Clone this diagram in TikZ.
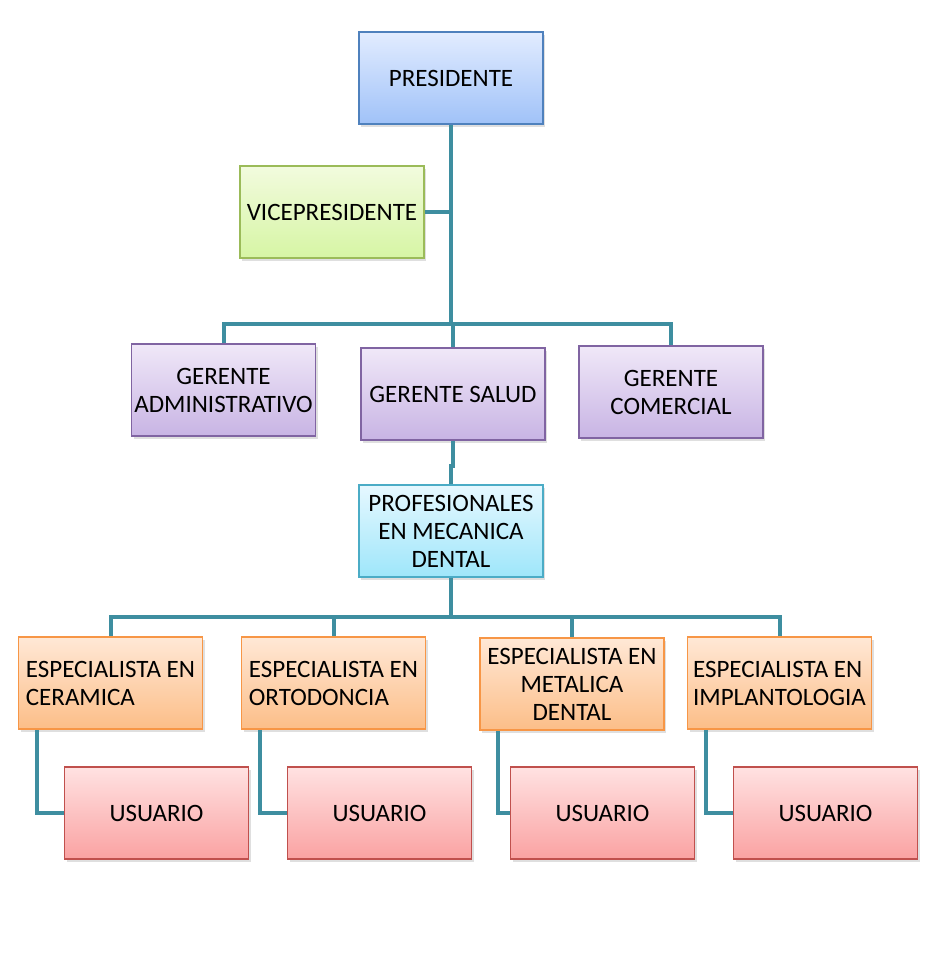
\documentclass[tikz,border=0pt]{standalone}
\usepackage{fontspec}
\setmainfont{Carlito}
\usetikzlibrary{shadows}

\definecolor{linkc}{RGB}{62,142,160}
\definecolor{presT}{RGB}{226,236,255}\definecolor{presB}{RGB}{160,194,248}\definecolor{presD}{RGB}{79,129,189}
\definecolor{viceT}{RGB}{242,251,222}\definecolor{viceB}{RGB}{214,245,164}\definecolor{viceD}{RGB}{155,187,89}
\definecolor{gerT}{RGB}{240,232,248}\definecolor{gerB}{RGB}{200,180,228}\definecolor{gerD}{RGB}{128,100,162}
\definecolor{profT}{RGB}{230,248,255}\definecolor{profB}{RGB}{158,230,250}\definecolor{profD}{RGB}{75,172,198}
\definecolor{espT}{RGB}{255,232,214}\definecolor{espB}{RGB}{252,190,136}\definecolor{espD}{RGB}{247,150,70}
\definecolor{usrT}{RGB}{255,226,226}\definecolor{usrB}{RGB}{250,162,162}\definecolor{usrD}{RGB}{192,80,77}

\tikzset{
    orgbox/.style={draw=#1D, line width=1.5pt, top color=#1T, bottom color=#1B,
        minimum width=184pt, minimum height=92pt, inner sep=2pt,
        font=\fontsize{25}{28}\selectfont, align=center,
        drop shadow={shadow xshift=2pt, shadow yshift=-3pt, opacity=0.25}},
    link/.style={draw=linkc, line width=4pt}
}

\begin{document}
\begin{tikzpicture}[x=1pt, y=-1pt]
    \useasboundingbox (0,0) rectangle (927,973);

    % top of the chart
    \node[orgbox=pres] (pres) at (451,78) {PRESIDENTE};
    \node[orgbox=vice] (vice) at (332,212) {VICEPRESIDENTE};

    % managers
    \node[orgbox=ger] (gadm) at (223.5,390) {GERENTE\\ADMINISTRATIVO};
    \node[orgbox=ger] (gsal) at (453,394) {GERENTE SALUD};
    \node[orgbox=ger] (gcom) at (671,392) {GERENTE\\COMERCIAL};

    \node[orgbox=prof] (prof) at (451,531) {PROFESIONALES\\EN MECANICA\\DENTAL};

    % specialists
    \node[orgbox=esp, align=left] (esp1) at (110.5,683) {ESPECIALISTA EN\\CERAMICA};
    \node[orgbox=esp, align=left] (esp2) at (333.5,683) {ESPECIALISTA EN\\ORTODONCIA};
    \node[orgbox=esp] (esp3) at (572,684) {ESPECIALISTA EN\\METALICA\\DENTAL};
    \node[orgbox=esp, align=left] (esp4) at (779.5,683) {ESPECIALISTA EN\\IMPLANTOLOGIA};

    % users
    \foreach \i/\x in {1/156.5, 2/379.5, 3/602.5, 4/825.5}
        \node[orgbox=usr] (usr\i) at (\x,813) {USUARIO};

    % draw connectors
    \coordinate (busA) at (451,324);
    \coordinate (busB) at (451,617);
    \draw[link] (pres.south) -- (busA);
    \draw[link] (vice.east) -- (vice.east -| pres.south);
    \draw[link] (gadm.north) |- (busA) -| (gcom.north);
    \draw[link] (busA) -| (gsal.north);
    \draw[link] (gsal.south) -- ++(0,25) -| (prof.north);
    \draw[link] (prof.south) -- (busB);
    \foreach \i in {1,2,3,4}
        \draw[link] (busB) -| (esp\i.north);
    \foreach \i in {1,2,3,4}
        \draw[link] ([xshift=19pt]esp\i.south west) |- (usr\i.west);
\end{tikzpicture}
\end{document}
